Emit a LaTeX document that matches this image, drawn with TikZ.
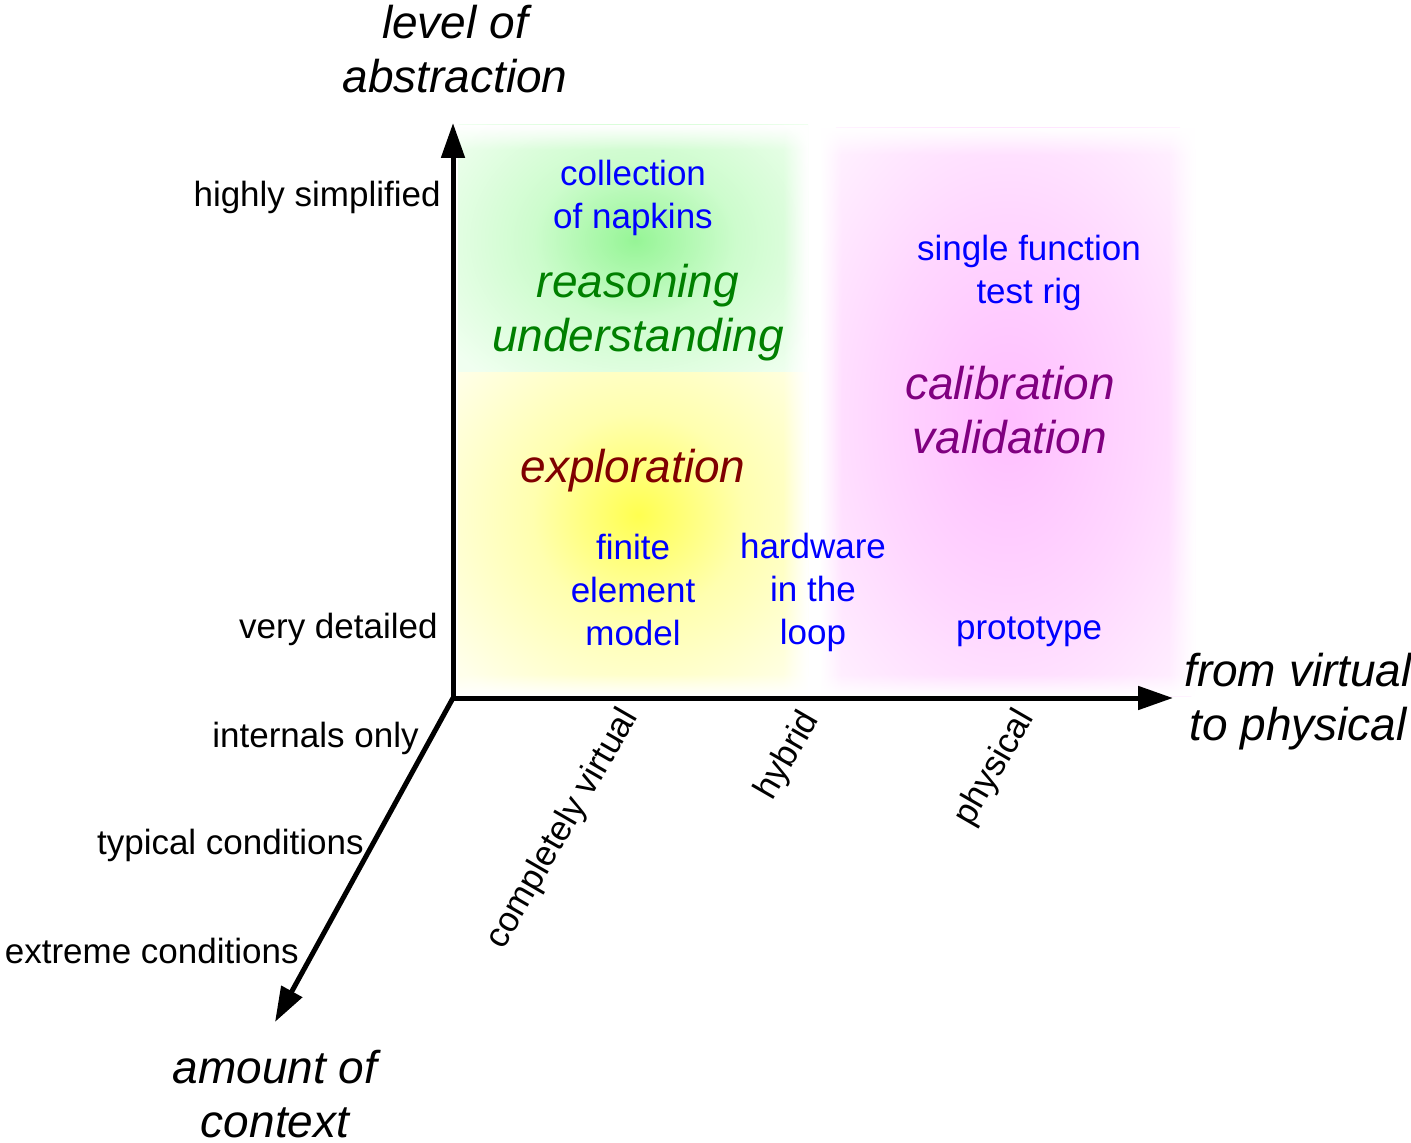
\documentclass[tikz,border=0pt]{standalone}
\usepackage{fontspec}
\setmainfont{Liberation Sans}
\usetikzlibrary{arrows.meta,fadings}
\definecolor{gA}{RGB}{150,245,150}
\definecolor{gB}{RGB}{205,252,205}
\definecolor{gC}{RGB}{240,255,240}
\definecolor{yA}{RGB}{255,255,80}
\definecolor{yB}{RGB}{255,255,175}
\definecolor{yC}{RGB}{255,255,235}
\definecolor{pA}{RGB}{255,190,255}
\definecolor{pB}{RGB}{255,215,255}
\definecolor{pC}{RGB}{255,243,255}
\definecolor{txtgreen}{RGB}{0,128,0}
\definecolor{txtpurple}{RGB}{128,0,128}
\definecolor{txtred}{RGB}{128,0,0}
\pgfdeclareradialshading{glowgreen}{\pgfpoint{0bp}{0bp}}{color(0bp)=(gA); color(11bp)=(gB); color(25bp)=(gC); color(50bp)=(gC)}
\pgfdeclareradialshading{glowyellow}{\pgfpoint{0bp}{0bp}}{color(0bp)=(yA); color(11bp)=(yB); color(25bp)=(yC); color(50bp)=(yC)}
\pgfdeclareradialshading{glowpink}{\pgfpoint{0bp}{0bp}}{color(0bp)=(pA); color(13bp)=(pB); color(25bp)=(pC); color(50bp)=(pC)}
\begin{document}
\begin{tikzpicture}[x=0.5pt,y=-0.5pt,
  axis/.style={line width=2.5pt, -{Triangle[length=17.5pt,width=11.5pt]}},
  ticklabel/.style={font=\fontsize{17.5}{21.5}\selectfont, text=black, inner sep=0pt},
  example/.style={font=\fontsize{17.5}{21.5}\selectfont, text=blue, align=center, inner sep=0pt},
  purpose/.style={font=\itshape\fontsize{23}{27}\selectfont, align=center, inner sep=0pt},
  axistitle/.style={font=\itshape\fontsize{23}{27}\selectfont, text=black, align=center, inner sep=0pt},
  xtick/.style={font=\fontsize{17.5}{21.5}\selectfont, text=black, inner sep=0pt, rotate=60},
  softedge/.style={fill=white, draw=none}]
\useasboundingbox (0,0) rectangle (1411,1143);
% background regions
\begin{scope}
  \clip (458,125) rectangle (808,373);
  \fill[gC] (458,125) rectangle (808,373);
  \shade[shading=glowgreen] (635,240) ellipse (230 and 180);
\end{scope}
\begin{scope}
  \clip (458,373) rectangle (808,696);
  \fill[yC] (458,373) rectangle (808,696);
  \shade[shading=glowyellow] (638,515) ellipse (240 and 230);
\end{scope}
\begin{scope}
  \clip (820,128) rectangle (1195,696);
  \fill[pC] (820,128) rectangle (1195,696);
  \shade[shading=glowpink] (1008,420) ellipse (260 and 390);
\end{scope}
% soft borders of the regions
\fill[softedge, path fading=south] (458,125) rectangle (808,150);
\fill[softedge, path fading=west] (783,125) rectangle (808,696);
\fill[softedge, path fading=north] (458,674) rectangle (808,696);
\fill[softedge, path fading=south] (820,128) rectangle (1195,155);
\fill[softedge, path fading=east] (820,128) rectangle (842,696);
\fill[softedge, path fading=west] (1168,128) rectangle (1195,696);
\fill[softedge, path fading=north] (820,674) rectangle (1195,696);
% axes
\coordinate (o) at (453,698);
\coordinate (ytip) at (453,123);
\coordinate (xtip) at (1173,698);
\coordinate (ztip) at (275,1022);
\draw[axis] (o) -- (ytip);
\draw[axis] (o) -- (xtip);
\draw[axis] (o) -- (ztip);
% axis titles
\node[axistitle] (ytitle) at (455,49) {level of\\abstraction};
\node[axistitle] (xtitle) at (1298,702) {from virtual\\to physical};
\node[axistitle] (ztitle) at (275,1094) {amount of\\context};
% y ticks
\node[ticklabel, anchor=east] (hs) at (441,197) {highly simplified};
\node[ticklabel, anchor=east] (vd) at (438,629) {very detailed};
% z ticks
\node[ticklabel, anchor=east] (io) at (419,738) {internals only};
\node[ticklabel, anchor=east] (tc) at (364,845) {typical conditions};
\node[ticklabel, anchor=east] (ec) at (299,951) {extreme conditions};
% x ticks
\node[xtick] (cv) at (563,829) {completely virtual};
\node[xtick] (hy) at (788,756) {hybrid};
\node[xtick] (ph) at (995,768) {physical};
% contents
\node[example] (nap) at (633,198) {collection\\of napkins};
\node[purpose, text=txtgreen] (reas) at (638,313) {reasoning\\understanding};
\node[example] (rig) at (1029,273) {single function\\test rig};
\node[purpose, text=txtpurple] (cal) at (1010,410) {calibration\\validation};
\node[purpose, text=txtred] (expl) at (633,471) {exploration};
\node[example] (fem) at (633,590) {finite\\element\\model};
\node[example] (hil) at (813,592) {hardware\\in the\\loop};
\node[example] (proto) at (1029,632) {prototype};
\end{tikzpicture}
\end{document}
